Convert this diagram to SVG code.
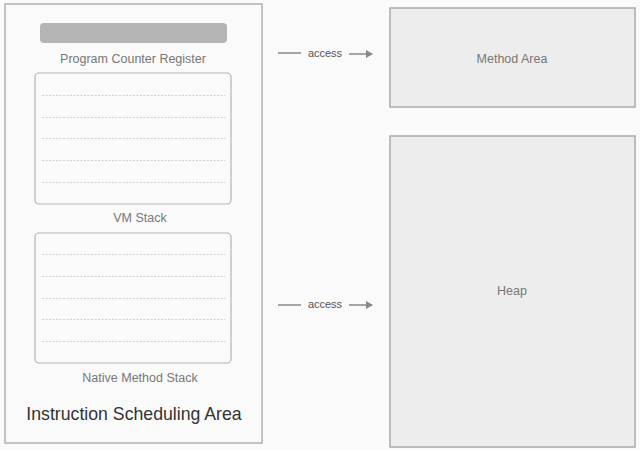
<svg xmlns="http://www.w3.org/2000/svg" width="640" height="450" viewBox="0 0 640 450">
<style>
text{font-family:"Liberation Sans",Arial,sans-serif;fill:#777}
.lbl{font-size:12.5px;text-anchor:middle}
.box{fill:#fafafa;stroke:#b4b4b4;stroke-width:1.2}
.area{fill:#ededed;stroke:#ababab;stroke-width:1.5}
.dash{stroke:#c4c4c4;stroke-width:0.8;stroke-dasharray:2 1.5}
.conn{stroke:#888;stroke-width:1.5;fill:none}
</style>
<defs>
<marker id="ah" markerWidth="8" markerHeight="8" refX="6" refY="4" orient="auto" markerUnits="userSpaceOnUse">
<path d="M0,0 L7,4 L0,8 Z" fill="#888"/>
</marker>
</defs>
<rect x="0" y="0" width="640" height="450" fill="#fafafa"/>
<g id="instruction-area">
<rect x="5" y="4" width="257" height="439" fill="#fafafa" stroke="#b0b0b0" stroke-width="1.5"/>
<text x="134" y="420" style="font-size:17.7px;fill:#333" text-anchor="middle">Instruction Scheduling Area</text>
</g>
<g id="pc-register">
<rect x="40" y="23" width="187" height="20" rx="4" fill="#b4b4b4"/>
<text class="lbl" x="133" y="63">Program Counter Register</text>
</g>
<g id="vm-stack">
<rect class="box" x="35" y="73" width="196" height="131" rx="4"/>
<line class="dash" x1="42" y1="95.5" x2="225" y2="95.5"/>
<line class="dash" x1="42" y1="117.5" x2="225" y2="117.5"/>
<line class="dash" x1="42" y1="138.5" x2="225" y2="138.5"/>
<line class="dash" x1="42" y1="160.5" x2="225" y2="160.5"/>
<line class="dash" x1="42" y1="182.5" x2="225" y2="182.5"/>
<text class="lbl" x="140" y="222">VM Stack</text>
</g>
<g id="native-method-stack">
<rect class="box" x="35" y="233" width="196" height="130" rx="4"/>
<line class="dash" x1="42" y1="254.5" x2="225" y2="254.5"/>
<line class="dash" x1="42" y1="276.5" x2="225" y2="276.5"/>
<line class="dash" x1="42" y1="298.5" x2="225" y2="298.5"/>
<line class="dash" x1="42" y1="319.5" x2="225" y2="319.5"/>
<line class="dash" x1="42" y1="341.5" x2="225" y2="341.5"/>
<text class="lbl" x="140" y="382">Native Method Stack</text>
</g>
<g id="method-area">
<rect class="area" x="390" y="8" width="245" height="99"/>
<text class="lbl" x="512" y="63">Method Area</text>
</g>
<g id="heap">
<rect class="area" x="390" y="136" width="245" height="311"/>
<text class="lbl" x="512" y="295">Heap</text>
</g>
<g id="connectors">
<line class="conn" x1="278" y1="53" x2="301" y2="53"/>
<line class="conn" x1="349" y1="54" x2="372" y2="54" marker-end="url(#ah)"/>
<text x="325" y="57" style="font-size:11px;fill:#555" text-anchor="middle">access</text>
<line class="conn" x1="278" y1="305" x2="301" y2="305"/>
<line class="conn" x1="349" y1="305" x2="372" y2="305" marker-end="url(#ah)"/>
<text x="325" y="308" style="font-size:11px;fill:#555" text-anchor="middle">access</text>
</g>
</svg>
